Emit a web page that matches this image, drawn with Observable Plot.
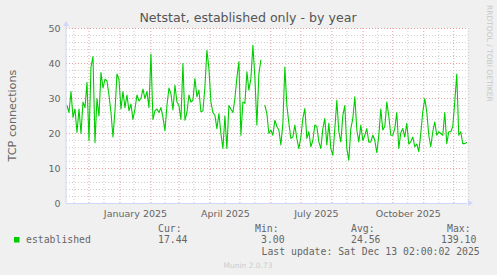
<!DOCTYPE html>
<html><head><meta charset="utf-8">
<script src="https://cdn.jsdelivr.net/npm/d3@7"></script>
<script src="https://cdn.jsdelivr.net/npm/@observablehq/plot@0.6"></script>
<style>
html,body{margin:0;padding:0;background:#F0F0F0;}
#chart{width:497px;height:275px;position:relative;}
</style></head><body><div id="chart"></div>
<script>
const title = "Netstat, established only - by year";
const yLabel = "TCP connections";
const startDate = "2024-11-09";
const stepDays = 2;
const values = [
  28, 26, 32, 24.6, 27, 20.3, 27, 20, 29, 27.4,
  34.6, 18, 39, 42, 17.4, 30, 25, 37.4, 33, 35.5,
  35, 31, 26, 19, 26.5, 37, 35.5, 27, 32, 27.4,
  31, 26.5, 28.4, 24, 27, 31, 29.3, 30, 32.7, 30,
  32, 27.4, 42.7, 24, 26.5, 27, 26, 27.4, 24.6, 20.8,
  28, 33, 31.4, 26.7, 33.8, 29, 28, 24, 40, 23.8,
  26, 31, 29, 29.5, 35.7, 30.5, 32.4, 26.2, 26.5, 33.3,
  43.8, 38.6, 29, 26, 25.2, 21.4, 25.7, 20, 15.7, 25,
  15.7, 28, 27, 26, 30, 36, 40.5, 19.5, 29, 28.6,
  37.6, 32.4, 35.7, 45.2, 36, 22.4, 37, 41, null, 28,
  25.7, 20, 21, 19.5, 23.8, 22, 21, 16.7, 22.9, 39,
  28, 23, 18.6, 19, 22.4, 18.5, 15.7, 19, 24.3, 27.1,
  18.6, 20.5, 16.2, 18, 22.4, 22, 17.6, 15.7, 21.4, 24.3,
  16.7, 22.9, 15.7, 13.8, 21.4, 29.5, 20.5, 17.6, 25.2, 28,
  15.7, 12.4, 21.4, 24.3, 30.5, 21, 17.6, 22.4, 18, 19.5,
  21.4, 17.5, 17.6, 19.5, 18, 14.5, 19.5, 27, 21, 22,
  29, 25, 19.5, 19.5, 21.4, 26, 15.7, 20.2, 21.4, 19,
  22.9, 17, 17.6, 19, 16.2, 17, 14.8, 20, 26.2, 30,
  26.2, 19.5, 16.2, 20.5, 23.3, 19.5, 20.5, 20, 19.5, 26,
  17.1, 20.5, 20.5, 22, 29, 37, 19.5, 20.5, 17.1, 17.1,
  17.44
];
const xDomain = ["2024-11-08T12:00:00Z", "2025-12-14T18:00:00Z"];
const yDomain = [0, 50];
const yTicks = [0, 10, 20, 30, 40, 50];
const yMinorTicks = [2,4,6,8,12,14,16,18,22,24,26,28,32,34,36,38,42,44,46,48];
const xLabelDates = ["2025-01-16T12:00:00Z", "2025-04-16T12:00:00Z", "2025-07-16T12:00:00Z", "2025-10-16T12:00:00Z"];
const xLabels = ["January 2025", "April 2025", "July 2025", "October 2025"];
const monthStarts = ["2024-12-01","2025-01-01","2025-02-01","2025-03-01","2025-04-01","2025-05-01","2025-06-01","2025-07-01","2025-08-01","2025-09-01","2025-10-01","2025-11-01","2025-12-01"];
const midMonths = ["2024-11-16","2024-12-16","2025-01-15","2025-02-15","2025-03-16","2025-04-16","2025-05-16","2025-06-16","2025-07-16","2025-08-16","2025-09-16","2025-10-16","2025-11-16","2025-12-16"];
const seriesName = "established";
const statLabels = ["Cur:", "Min:", "Avg:", "Max:"];
const statValues = ["17.44", "3.00", "24.56", "139.10"];
const lastUpdate = "Last update: Sat Dec 13 02:00:02 2025";
const footer = "Munin 2.0.73";
const watermark = "RRDTOOL / TOBI OETIKER";

const t0 = new Date(startDate + "T00:00:00Z");
const data = values.map((v, i) => ({date: d3.utcDay.offset(t0, i * stepDays), value: v}));
const toDate = s => new Date(s.length > 10 ? s : s + "T00:00:00Z");
const labelData = xLabelDates.map((d, i) => ({date: toDate(d), label: xLabels[i]}));

const green = "#00CC00";
const axisColor = "#CFD6F8";
const fontColor = "#666666";

const chart = Plot.plot({
  width: 497, height: 275,
  marginLeft: 66, marginRight: 30, marginTop: 28, marginBottom: 72,
  style: {background: "#F0F0F0", fontFamily: "DejaVu Sans", fontSize: "9.5px", color: fontColor, overflow: "visible"},
  x: {type: "utc", domain: xDomain.map(toDate)},
  y: {domain: yDomain},
  marks: [
    Plot.frame({fill: "white", stroke: "none"}),
    Plot.ruleY(yMinorTicks, {stroke: "#cfcfcf", strokeDasharray: "1,2"}),
    Plot.ruleX(midMonths.map(toDate), {stroke: "#cfcfcf", strokeDasharray: "1,2"}),
    Plot.ruleY(yTicks.filter(d => d > 0), {stroke: "#eaa0a0", strokeDasharray: "1,2"}),
    Plot.ruleX(monthStarts.map(toDate), {stroke: "#eaa0a0", strokeDasharray: "1,2"}),
    Plot.line(data, {x: "date", y: "value", stroke: green, strokeWidth: 1.1, clip: true}),
    Plot.ruleY([0], {stroke: axisColor, strokeWidth: 1}),
    Plot.axisY(yTicks, {tickSize: 0, tickPadding: 6, fontSize: 9.5, fill: fontColor, label: null}),
    Plot.axisX([], {tickSize: 0, label: null}),
    Plot.text(labelData, {x: "date", text: "label", frameAnchor: "bottom", dy: 10, lineAnchor: "middle", fill: fontColor, fontSize: 9.5}),
  ]
});

const svg = d3.select(chart);
const xs = chart.scale("x"), ys = chart.scale("y");
const x0 = xs.range[0], x1 = xs.range[1];
const yb = ys.apply(yDomain[0]), yt = ys.apply(yDomain[1]);
// axis lines with arrows
svg.append("line").attr("x1", x0).attr("x2", x0).attr("y1", yb).attr("y2", yt - 4).attr("stroke", axisColor);
svg.append("polygon").attr("points", `${x0-3},${yt-2} ${x0+3},${yt-2} ${x0},${yt-7}`).attr("fill", axisColor);
svg.append("polygon").attr("points", `${x1+1},${yb-3} ${x1+1},${yb+3} ${x1+6},${yb}`).attr("fill", axisColor);

function txt(x, y, s, opts = {}) {
  return svg.append("text").attr("x", x).attr("y", y)
    .attr("text-anchor", opts.anchor || "start")
    .attr("font-family", opts.font || "DejaVu Sans")
    .attr("font-size", opts.size || 9.5)
    .attr("fill", opts.fill || fontColor)
    .attr("transform", opts.transform || null)
    .text(s);
}
txt(248, 22, title, {anchor: "middle", size: 12.6, fill: "#555"});
txt(0, 0, yLabel, {anchor: "middle", size: 11.2, transform: `translate(16,${(yb + yt) / 2}) rotate(-90)`});
txt(0, 0, watermark, {size: 7.5, fill: "#c8c8c8", transform: "translate(487,5) rotate(90)"});

const mono = "DejaVu Sans Mono";
svg.append("rect").attr("x", 14).attr("y", 237).attr("width", 5.5).attr("height", 5.5).attr("fill", green);
txt(26, 243.3, seriesName, {font: mono, size: 9.8});
const statX = [158, 255, 351, 447];
const valX = [158, 261, 351, 441];
statLabels.forEach((s, i) => {
  txt(statX[i], 231.7, s, {font: mono, size: 9.8});
  txt(valX[i], 243.3, statValues[i], {font: mono, size: 9.8});
});
txt(261.5, 255, lastUpdate, {font: mono, size: 9.8});
txt(248, 267.5, footer, {anchor: "middle", size: 7.5, fill: "#cccccc"});

document.getElementById("chart").appendChild(chart);
</script>
</body></html>
